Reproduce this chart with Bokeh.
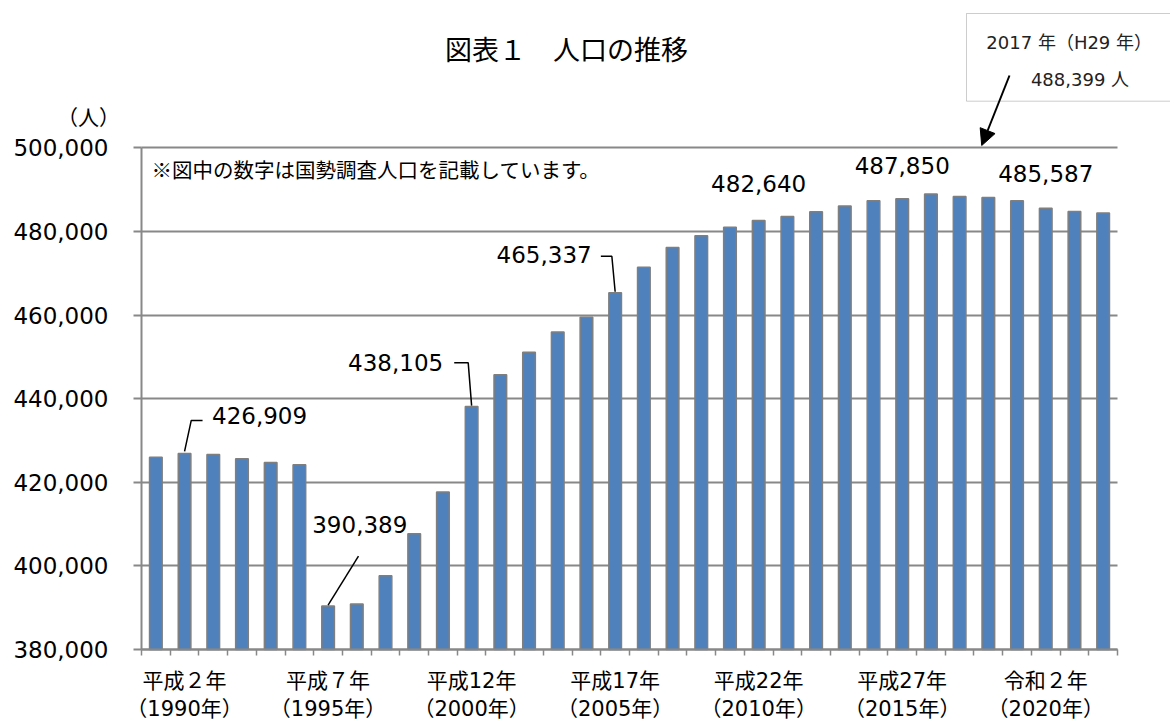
from bokeh.plotting import figure
from bokeh.models import (Range1d, FixedTicker, NumeralTickFormatter, Label,
                          BoxAnnotation, Arrow, NormalHead, ColumnDataSource)
from bokeh.embed import file_html
from bokeh.resources import INLINE

# ---------------- data ----------------
years = list(range(1989, 2023))
population = [426020, 426909, 426670, 425620, 424760, 424180, 390389, 390870,
              397660, 407700, 417700, 438105, 445700, 451100, 455950, 459500,
              465337, 471450, 476150, 479000, 481000, 482640, 483600, 484700,
              486100, 487350, 487850, 488950, 488399, 488150, 487350, 485587,
              484800, 484450]
tick_index = [1, 6, 11, 16, 21, 26, 31]
tick_labels = ["平成２年\n（1990年）", "平成７年\n（1995年）", "平成12年\n（2000年）",
               "平成17年\n（2005年）", "平成22年\n（2010年）", "平成27年\n（2015年）",
               "令和２年\n（2020年）"]
census_index = [1, 6, 11, 16, 21, 26, 31]
y_ticks = [380000, 400000, 420000, 440000, 460000, 480000, 500000]
title_text = "図表１　人口の推移"
note_text = "※図中の数字は国勢調査人口を記載しています。"
unit_text = "（人）"
callout_lines = ["2017 年（H29 年）", "488,399 人"]
callout_index = 28

# ---------------- geometry helpers ----------------
W, H = 1170, 724
PX_PER_CAT = 28.706
Y_PER_PX = 120000 / 501.6
X_LEFT_PAGE, Y_BOTTOM_PAGE = 141, 649


def xd(px):
    return -0.5 + (px - X_LEFT_PAGE) / PX_PER_CAT


def yd(py):
    return 380000 + (Y_BOTTOM_PAGE - py) * Y_PER_PX


NUM_FONT = "DejaVu Sans, Noto Sans CJK JP"
JP_FONT = "Noto Sans CJK JP, DejaVu Sans"
GRAY = "#888888"

p = figure(frame_width=W, frame_height=H,
           x_range=Range1d(xd(0), xd(W)), y_range=Range1d(yd(H), yd(0)),
           min_border_left=0, min_border_right=0, min_border_top=0,
           min_border_bottom=0, output_backend="svg", toolbar_location=None,
           tools="")
p.outline_line_color = None
p.background_fill_color = "white"
p.border_fill_color = "white"

src = ColumnDataSource(dict(x=list(range(len(years))), top=population,
                            year=years))
p.vbar(x="x", top="top", bottom=y_ticks[0], width=0.44, source=src,
       fill_color="#4F81BD", line_color="#7F7F7F", line_width=1.5)

# x axis
xa = p.xaxis[0]
xa.fixed_location = y_ticks[0]
xa.ticker = FixedTicker(ticks=tick_index,
                        minor_ticks=[i - 0.5 for i in range(len(years) + 1)])
xa.major_label_overrides = {i: t for i, t in zip(tick_index, tick_labels)}
xa.bounds = (-0.5, len(years) - 0.5)
xa.axis_line_color = GRAY
xa.axis_line_width = 2
xa.major_tick_out = 0
xa.major_tick_in = 0
xa.minor_tick_out = 6
xa.minor_tick_in = 0
xa.minor_tick_line_color = GRAY
xa.minor_tick_line_width = 1.5
xa.major_label_text_font = NUM_FONT
xa.major_label_text_font_size = "21px"
xa.major_label_text_color = "black"
xa.major_label_text_line_height = 1.17
xa.major_label_standoff = 13

# y axis
ya = p.yaxis[0]
ya.fixed_location = -0.5
ya.ticker = FixedTicker(ticks=y_ticks, minor_ticks=[])
ya.formatter = NumeralTickFormatter(format="0,0")
ya.bounds = (y_ticks[0], y_ticks[-1])
ya.axis_line_color = GRAY
ya.axis_line_width = 2
ya.major_tick_out = 8
ya.major_tick_in = 0
ya.major_tick_line_color = GRAY
ya.major_tick_line_width = 2
ya.minor_tick_out = 0
ya.minor_tick_in = 0
ya.major_label_text_font = NUM_FONT
ya.major_label_text_font_size = "23px"
ya.major_label_text_color = "black"
ya.major_label_standoff = 25

p.xgrid.visible = False
p.ygrid.ticker = FixedTicker(ticks=y_ticks, minor_ticks=[])
p.ygrid.bounds = (y_ticks[0], y_ticks[-1])
p.ygrid.cross_bounds = (-0.5, len(years) - 0.5)
p.ygrid.grid_line_color = GRAY
p.ygrid.grid_line_width = 2

# data labels with offsets (pixels) relative to bar top
label_offsets = [(75, 38), (31.7, 82), (-76, 43.8), (-71, 38.5),
                 (0, 37), (0, 33.5), (0, 34.7)]
leader_offsets = [[(0, 2), (6.7, 33), (18, 33)],
                  [(0, 1), (30.4, 50)],
                  [(0, 1), (-3.4, 43.8), (-17.4, 43.8)],
                  [(0, 1), (-3.3, 36.5), (-14.3, 36.5)]]
for k, i in enumerate(census_index):
    v = population[i]
    ox, oy = label_offsets[k]
    p.add_layout(Label(x=i, y=v, x_offset=ox, y_offset=oy, text=f"{v:,}",
                       text_font=NUM_FONT, text_font_size="23px",
                       text_color="black", text_align="center",
                       text_baseline="middle"))
xs, ys = [], []
for k, pts in enumerate(leader_offsets):
    i = census_index[k]
    v = population[i]
    xs.append([i + a / PX_PER_CAT for a, b in pts])
    ys.append([v + b * Y_PER_PX for a, b in pts])
p.multi_line(xs, ys, line_color="black", line_width=1.5)

# title, note, unit
p.add_layout(Label(x=xd(566), y=yd(48), text=title_text, text_font=JP_FONT,
                   text_font_size="27px", text_color="black",
                   text_align="center", text_baseline="middle"))
p.add_layout(Label(x=xd(151), y=yd(168), text=note_text, text_font=JP_FONT,
                   text_font_size="20.5px", text_color="black",
                   text_align="left", text_baseline="middle"))
p.add_layout(Label(x=xd(88), y=yd(115), text=unit_text, text_font=JP_FONT,
                   text_font_size="21px", text_color="black",
                   text_align="center", text_baseline="middle"))

# callout box with arrow
p.add_layout(BoxAnnotation(left=xd(966), right=xd(1240), top=yd(13),
                           bottom=yd(100.7), fill_alpha=0,
                           line_color="#595959", line_width=1))
p.add_layout(Label(x=xd(1068.7), y=yd(41.7), text=callout_lines[0],
                   text_font=NUM_FONT, text_font_size="18px",
                   text_color="#222222", text_align="center",
                   text_baseline="middle"))
p.add_layout(Label(x=xd(1079.5), y=yd(79), text=callout_lines[1],
                   text_font=NUM_FONT, text_font_size="18px",
                   text_color="#222222", text_align="center",
                   text_baseline="middle"))
p.add_layout(Arrow(end=NormalHead(size=16, fill_color="black",
                                  line_color="black"),
                   x_start=xd(1009), y_start=yd(75),
                   x_end=callout_index + (967.7 - 945.6) / PX_PER_CAT,
                   y_end=yd(145), line_color="black", line_width=2))

open("out.html", "w").write(file_html(p, INLINE))
